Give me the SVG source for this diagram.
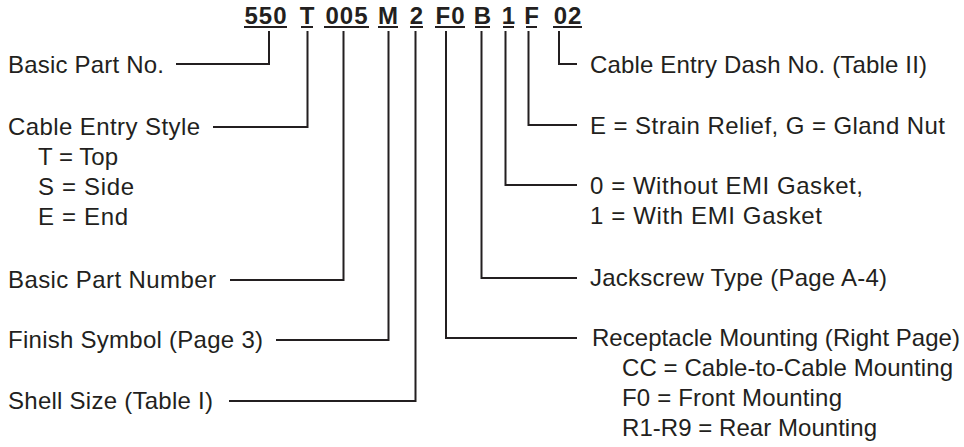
<svg xmlns="http://www.w3.org/2000/svg" width="964" height="447" viewBox="0 0 964 447">
<style>
.lbl{font-family:"Liberation Sans",Arial,sans-serif;font-size:24px;fill:#231f20}
.code{font-family:"Liberation Sans",Arial,sans-serif;font-size:24px;font-weight:bold;fill:#231f20;text-anchor:middle;letter-spacing:1px}
.ul{stroke:#231f20;stroke-width:2}
.con{fill:none;stroke:#231f20;stroke-width:2}
</style>
<rect width="964" height="447" fill="#ffffff"/>
<g id="code">
<text class="code" x="266" y="24">550</text>
<text class="code" x="307.5" y="24">T</text>
<text class="code" x="347" y="24">005</text>
<text class="code" x="388.5" y="24">M</text>
<text class="code" x="417" y="24">2</text>
<text class="code" x="450.5" y="24">F0</text>
<text class="code" x="483" y="24">B</text>
<text class="code" x="509" y="24">1</text>
<text class="code" x="532" y="24">F</text>
<text class="code" x="568" y="24">02</text>
<line class="ul" x1="244" y1="27" x2="287" y2="27"/>
<line class="ul" x1="301" y1="27" x2="313" y2="27"/>
<line class="ul" x1="324" y1="27" x2="369" y2="27"/>
<line class="ul" x1="378" y1="27" x2="398" y2="27"/>
<line class="ul" x1="410" y1="27" x2="423" y2="27"/>
<line class="ul" x1="435" y1="27" x2="465" y2="27"/>
<line class="ul" x1="475" y1="27" x2="490" y2="27"/>
<line class="ul" x1="503" y1="27" x2="514" y2="27"/>
<line class="ul" x1="526" y1="27" x2="537" y2="27"/>
<line class="ul" x1="553" y1="27" x2="582" y2="27"/>
</g>
<g id="connectors">
<polyline class="con" points="269,31 269,64 176,64"/>
<polyline class="con" points="307.5,31 307.5,127 213,127"/>
<polyline class="con" points="343.5,31 343.5,280 230,280"/>
<polyline class="con" points="388.5,31 388.5,340 276,340"/>
<polyline class="con" points="415.5,31 415.5,401 229,401"/>
<polyline class="con" points="446,31 446,338 577,338"/>
<polyline class="con" points="481.5,31 481.5,278 577,278"/>
<polyline class="con" points="505.5,31 505.5,185 577,185"/>
<polyline class="con" points="528.5,31 528.5,125 577,125"/>
<polyline class="con" points="559,31 559,64 577,64"/>
</g>
<g id="basic-part-no"><text class="lbl" x="8" y="73" textLength="156" lengthAdjust="spacing">Basic Part No.</text></g>
<g id="cable-entry-style">
<text class="lbl" x="8" y="135" textLength="192" lengthAdjust="spacing">Cable Entry Style</text>
<text class="lbl" x="38" y="165" textLength="80" lengthAdjust="spacing">T = Top</text>
<text class="lbl" x="38" y="195" textLength="96" lengthAdjust="spacing">S = Side</text>
<text class="lbl" x="38" y="225" textLength="90" lengthAdjust="spacing">E = End</text>
</g>
<g id="basic-part-number"><text class="lbl" x="8" y="288" textLength="208" lengthAdjust="spacing">Basic Part Number</text></g>
<g id="finish-symbol"><text class="lbl" x="8" y="348" textLength="255" lengthAdjust="spacing">Finish Symbol (Page 3)</text></g>
<g id="shell-size"><text class="lbl" x="8" y="409" textLength="205" lengthAdjust="spacing">Shell Size (Table I)</text></g>
<g id="dash-no"><text class="lbl" x="590" y="73" textLength="337" lengthAdjust="spacing">Cable Entry Dash No. (Table II)</text></g>
<g id="strain-relief"><text class="lbl" x="590" y="134" textLength="355" lengthAdjust="spacing">E = Strain Relief, G = Gland Nut</text></g>
<g id="emi-gasket">
<text class="lbl" x="590" y="194" textLength="273" lengthAdjust="spacing">0 = Without EMI Gasket,</text>
<text class="lbl" x="590" y="224" textLength="232" lengthAdjust="spacing">1 = With EMI Gasket</text>
</g>
<g id="jackscrew"><text class="lbl" x="590" y="286" textLength="297" lengthAdjust="spacing">Jackscrew Type (Page A-4)</text></g>
<g id="receptacle-mounting">
<text class="lbl" x="592" y="346" textLength="368" lengthAdjust="spacing">Receptacle Mounting (Right Page)</text>
<text class="lbl" x="622" y="376" textLength="331" lengthAdjust="spacing">CC = Cable-to-Cable Mounting</text>
<text class="lbl" x="622" y="406" textLength="220" lengthAdjust="spacing">F0 = Front Mounting</text>
<text class="lbl" x="622" y="436" textLength="255" lengthAdjust="spacing">R1-R9 = Rear Mounting</text>
</g>
</svg>
